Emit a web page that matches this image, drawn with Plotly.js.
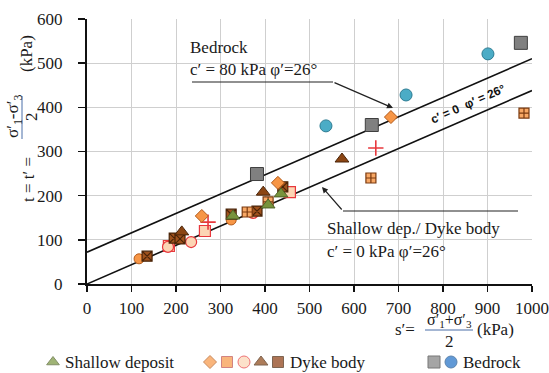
<!DOCTYPE html>
<html><head><meta charset="utf-8">
<script src="https://cdn.plot.ly/plotly-3.0.1.min.js"></script>
<style>html,body{margin:0;padding:0;background:#fff}#chart{width:549px;height:373px}</style>
</head><body><div id="chart"></div>
<script>
// ---- data (s' , t' in kPa) ----
const xTicks = [0,100,200,300,400,500,600,700,800,900,1000];
const yTicks = [0,100,200,300,400,500,600];

const shallowS = [328, 407, 436];
const shallowT = [154, 179, 204];

const bedSqS = [382, 640, 975];
const bedSqT = [249, 360, 546];
const bedCirS = [537, 717, 901];
const bedCirT = [358, 428, 521];

const dykeDiaS = [258, 429, 683];
const dykeDiaT = [154, 229, 378];
const dykeOrCirS = [117, 324];
const dykeOrCirT = [57, 145];
const dykeOrSqS = [360, 407, 638, 982];
const dykeOrSqT = [163, 186, 240, 387];
const dykePkSqS = [184, 265, 456];
const dykePkSqT = [86, 120, 208];
const dykePkCirS = [182, 234, 373];
const dykePkCirT = [84, 95, 161];
const dykeBrTriS = [213, 396, 573];
const dykeBrTriT = [118, 208, 283];
const dykeBrSqS = [135, 196, 209, 324, 382, 440];
const dykeBrSqT = [63, 104, 102, 158, 165, 220];
const dykePlusS = [272, 649];
const dykePlusT = [140, 308];

// failure envelopes (t = c' cos phi + s sin phi, phi = 26 deg)
const envS = [0, 1000];
const envBedrockT = [72, 510];
const envDykeT = [0, 438];

const legendLabels = ["Shallow deposit", "Dyke body", "Bedrock"];

// ---- helpers: pixel -> paper (margins are 0) ----
const W = 549, H = 373;
const px = x => x / W;
const py = y => 1 - y / H;
const SERIF = "Liberation Serif";

function pts(s, t, symbol, size, fill, line, lw) {
  return {x: s, y: t, type: 'scatter', mode: 'markers', xaxis: 'x', yaxis: 'y',
    hoverinfo: 'skip', showlegend: false,
    marker: {symbol: symbol, size: size, color: fill, line: {color: line, width: lw === undefined ? 1 : lw}}};
}

const traces = [
  {x: envS, y: envBedrockT, type: 'scatter', mode: 'lines', line: {color: '#111', width: 1.6}, showlegend: false, hoverinfo: 'skip'},
  {x: envS, y: envDykeT, type: 'scatter', mode: 'lines', line: {color: '#111', width: 1.6}, showlegend: false, hoverinfo: 'skip'},
  pts(dykeOrCirS, dykeOrCirT, 'circle', 10, '#F79646', '#B35A1A'),
  pts(dykePkSqS, dykePkSqT, 'square', 11, '#FCD5B4', '#E8383D', 1.2),
  pts(dykePkCirS, dykePkCirT, 'circle', 11, '#FCD5B4', '#E8383D', 1.2),
  pts(dykeBrSqS, dykeBrSqT, 'square-x', 10, '#A0521D', '#4A2408', 1.2),
  pts(dykeOrSqS, dykeOrSqT, 'square-cross', 10, '#F8A865', '#7A3A10', 1.2),
  pts(dykePlusS, dykePlusT, 'cross-thin-open', 11, '#E8383D', '#E8383D', 1.6),
  pts(dykeBrTriS, dykeBrTriT, 'triangle-up', 12, '#8B4513', '#4A2408'),
  pts(dykeDiaS, dykeDiaT, 'diamond', 10, '#F79646', '#B35A1A'),
  pts(shallowS, shallowT, 'triangle-up', 12, '#77933C', '#4F6228'),
  pts(bedSqS, bedSqT, 'square', 13, '#808080', '#3F3F3F'),
  pts(bedCirS, bedCirT, 'circle', 12, '#4BACC6', '#2C7C93'),
  // custom legend keys (drawn on a pixel overlay axis)
  {x: [53, 210, 227, 244, 261, 278, 434, 451], y: [362, 362, 362, 362, 362, 362, 362, 362],
   type: 'scatter', mode: 'markers', xaxis: 'x2', yaxis: 'y2', hoverinfo: 'skip', showlegend: false,
   marker: {symbol: ['triangle-up','diamond','square','circle','triangle-up','square','square','circle'],
     size: [11, 10, 11, 12, 12, 11, 12, 12],
     color: ['#77933C','#F79646','#F79646','#FCD5B4','#8B4513','#8B3A0E','#808080','#1F6FC5'],
     line: {width: 1, color: ['#4F6228','#B35A1A','#C0504D','#E8383D','#4A2408','#4A2408','#3F3F3F','#174f8c']}}}
];

const txt = (text, x, y, opts) => Object.assign({text: text, x: px(x), y: py(y), xref: 'paper', yref: 'paper',
  xanchor: 'center', yanchor: 'middle',
  showarrow: false, font: {family: SERIF, size: 17, color: '#1a1a1a'}}, opts || {});

const annotations = [
  // y-axis title (rotated pieces)
  txt("t = t′ =", 28, 180, {textangle: -90}),
  txt("σ′<sub>1</sub>-σ′<sub>3</sub>", 14, 117, {textangle: -90}),
  txt("2", 31, 117, {textangle: -90}),
  txt("(kPa)", 27, 54, {textangle: -90}),
  // x-axis title
  txt("s′=", 405, 329),
  txt("σ′<sub>1</sub>+σ′<sub>3</sub>", 449, 320, {font: {family: SERIF, size: 16, color: '#1a1a1a'}}),
  txt("2", 449, 341),
  txt("(kPa)", 495, 329),
  // legend labels
  txt(legendLabels[0], 63, 362, {xanchor: 'left'}),
  txt(legendLabels[1], 288, 362, {xanchor: 'left'}),
  txt(legendLabels[2], 461, 362, {xanchor: 'left'}),
  // envelope labels
  txt("Bedrock", 188, 48, {xanchor: 'left'}),
  txt("c′ = 80 kPa φ′=26°", 188, 69, {xanchor: 'left'}),
  txt("Shallow dep./ Dyke body", 325, 228, {xanchor: 'left'}),
  txt("c′ = 0 kPa φ′=26°", 325, 251, {xanchor: 'left'}),
  txt("<b>c′ = 0  φ′ = 26°</b>", 468, 104, {textangle: -23.6, font: {family: 'Liberation Sans', size: 12, color: '#111'}}),
  // leader arrows
  {x: px(393), y: py(108), xref: 'paper', yref: 'paper', ax: -60, ay: -26, text: '', showarrow: true,
   arrowhead: 2, arrowsize: 1, arrowwidth: 1.2, arrowcolor: '#222'},
  {x: px(322), y: py(187), xref: 'paper', yref: 'paper', ax: 21, ay: 24, text: '', showarrow: true,
   arrowhead: 2, arrowsize: 1, arrowwidth: 1.2, arrowcolor: '#222'}
];

const shapes = [
  {type: 'line', xref: 'paper', yref: 'paper', x0: px(22), x1: px(22), y0: py(96), y1: py(139), line: {color: '#4a6fa8', width: 1}},
  {type: 'line', xref: 'paper', yref: 'paper', x0: px(425), x1: px(473), y0: py(330), y1: py(330), line: {color: '#4a6fa8', width: 1}},
  {type: 'line', xref: 'paper', yref: 'paper', x0: px(192), x1: px(333), y0: py(82), y1: py(82), line: {color: '#222', width: 1.2}},
  {type: 'line', xref: 'paper', yref: 'paper', x0: px(343), x1: px(518), y0: py(211), y1: py(211), line: {color: '#222', width: 1.2}}
];

const axisFont = {family: SERIF, size: 17, color: '#1a1a1a'};
const layout = {
  width: W, height: H,
  margin: {l: 0, r: 0, t: 0, b: 0},
  paper_bgcolor: '#fff', plot_bgcolor: 'rgba(0,0,0,0)',
  showlegend: false,
  xaxis: {domain: [px(87), px(532)], range: [0, 1000], tickvals: xTicks, ticktext: xTicks.map(String),
    showgrid: true, gridcolor: '#cfcfcf', gridwidth: 1, zeroline: false,
    showline: true, linecolor: '#111', linewidth: 2, ticks: 'outside', ticklen: 6, tickwidth: 1.5, tickcolor: '#111',
    tickfont: axisFont, ticklabelstandoff: 2, fixedrange: true, anchor: 'y'},
  yaxis: {domain: [py(284), py(19)], range: [0, 600], tickvals: yTicks, ticktext: yTicks.map(String),
    showgrid: true, gridcolor: '#cfcfcf', gridwidth: 1, zeroline: false,
    showline: true, linecolor: '#111', linewidth: 2, ticks: 'outside', ticklen: 7, tickwidth: 1.5, tickcolor: '#111',
    tickfont: axisFont, ticklabelstandoff: 12, fixedrange: true, anchor: 'x'},
  xaxis2: {domain: [0, 1], range: [0, W], visible: false, anchor: 'y2', fixedrange: true},
  yaxis2: {domain: [0, 1], range: [H, 0], visible: false, anchor: 'x2', fixedrange: true},
  annotations: annotations,
  shapes: shapes
};

Plotly.newPlot('chart', traces, layout, {displayModeBar: false, staticPlot: true});
</script></body></html>
